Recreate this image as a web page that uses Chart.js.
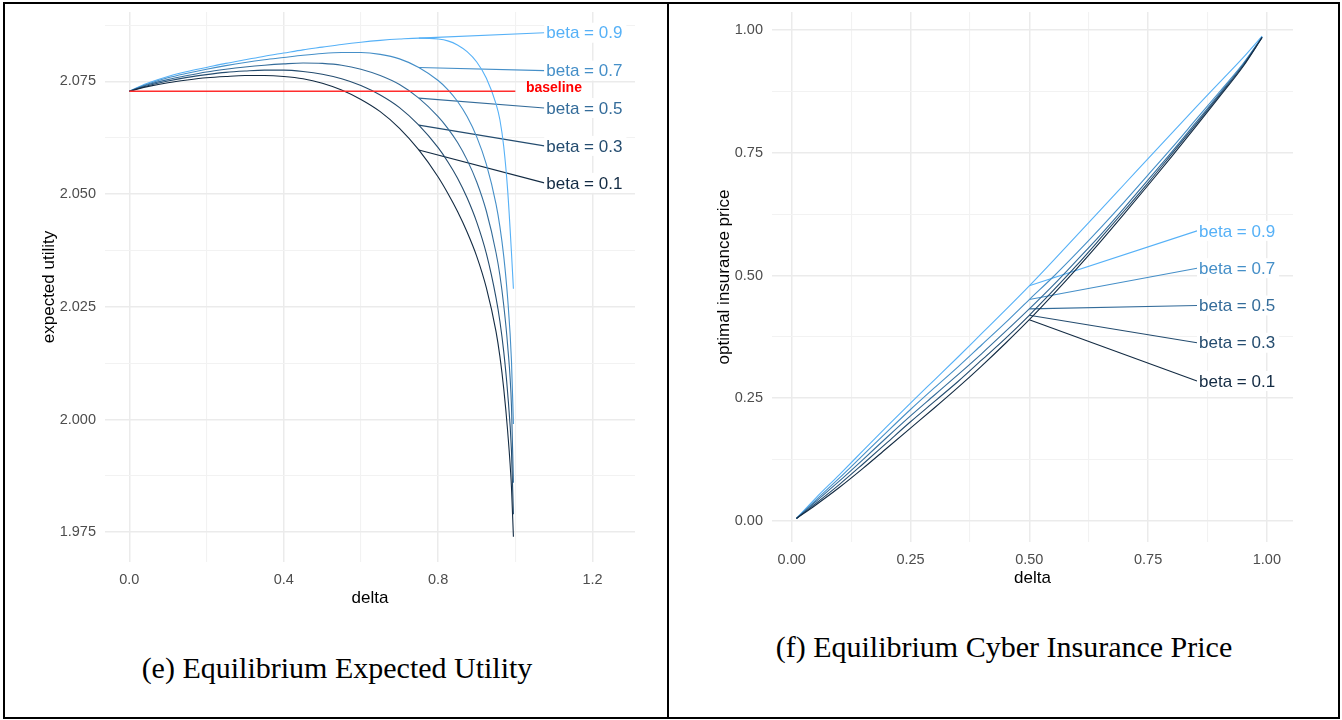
<!DOCTYPE html>
<html>
<head>
<meta charset="utf-8">
<script src="https://cdn.jsdelivr.net/npm/chart.js@4.4.1/dist/chart.umd.min.js"></script>
<style>
  body { margin: 0; background: #fff; }
  #page { position: relative; width: 1342px; height: 720px; overflow: hidden; background: #fff; }
  canvas { position: absolute; top: 0; }
  .frame { position: absolute; border: 2px solid #000; box-sizing: border-box; pointer-events: none; }
  .caption {
    position: absolute; white-space: nowrap; color: #000;
    font-family: 'Liberation Serif', 'Times New Roman', serif;
    font-size: 30px; line-height: 30px; transform: translateX(-50%);
  }
</style>
</head>
<body>
<div id="page">
  <canvas id="utilChart" width="668" height="625" style="left:0"></canvas>
  <canvas id="priceChart" width="668" height="600" style="left:670px"></canvas>
  <div class="caption" style="left:337px; top:653px">(e) Equilibrium Expected Utility</div>
  <div class="caption" style="left:1004px; top:632px">(f) Equilibrium Cyber Insurance Price</div>
  <div class="frame" style="left:3px; top:2px; width:1337px; height:717px"></div>
  <div class="frame" style="left:667px; top:2px; width:2px; height:717px; border-width:0 0 0 2px"></div>
</div>
<script>
const betaLevels = ['0.1', '0.3', '0.5', '0.7', '0.9'];
const betaColors = ['#132B43', '#244C6F', '#346C9A', '#458FC8', '#56B1F7'];

// (e) expected utility against delta
const deltaUtil = [0, 0.025, 0.05, 0.1, 0.15, 0.2, 0.25, 0.3, 0.35, 0.4, 0.45, 0.5, 0.55, 0.6, 0.65, 0.7, 0.75,
  0.8, 0.825, 0.85, 0.875, 0.9, 0.925, 0.95, 0.96, 0.97, 0.98, 0.99, 0.995];
const utilBeta01 = [2.0728, 2.0734, 2.0739, 2.0747, 2.0753, 2.0758, 2.0761, 2.0763, 2.0763, 2.0761, 2.0756, 2.0746, 2.0731, 2.0710, 2.0683, 2.0646, 2.0598,
  2.0538, 2.0502, 2.0462, 2.0416, 2.0362, 2.0292, 2.0195, 2.0140, 2.0068, 1.9975, 1.9850, 1.9740];
const utilBeta03 = [2.0728, 2.0735, 2.0741, 2.0751, 2.0759, 2.0765, 2.0770, 2.0773, 2.0775, 2.0775, 2.0772, 2.0766, 2.0756, 2.0741, 2.0720, 2.0692, 2.0653,
  2.0603, 2.0572, 2.0536, 2.0492, 2.0438, 2.0368, 2.0270, 2.0218, 2.0150, 2.0060, 1.9930, 1.9790];
const utilBeta05 = [2.0728, 2.0736, 2.0743, 2.0754, 2.0763, 2.0771, 2.0777, 2.0782, 2.0786, 2.0789, 2.0791, 2.0790, 2.0786, 2.0777, 2.0763, 2.0743, 2.0713,
  2.0672, 2.0646, 2.0615, 2.0576, 2.0527, 2.0462, 2.0370, 2.0320, 2.0253, 2.0165, 2.0030, 1.9860];
const utilBeta07 = [2.0728, 2.0737, 2.0745, 2.0758, 2.0768, 2.0777, 2.0785, 2.0792, 2.0798, 2.0803, 2.0808, 2.0812, 2.0814, 2.0814, 2.0810, 2.0800, 2.0781,
  2.0752, 2.0732, 2.0706, 2.0672, 2.0627, 2.0566, 2.0478, 2.0428, 2.0362, 2.0270, 2.0130, 1.9990];
const utilBeta09 = [2.0728, 2.0738, 2.0747, 2.0761, 2.0772, 2.0781, 2.0790, 2.0798, 2.0806, 2.0813, 2.0820, 2.0826, 2.0832, 2.0837, 2.0841, 2.0844, 2.0846,
  2.0844, 2.0840, 2.0831, 2.0816, 2.0793, 2.0757, 2.0700, 2.0665, 2.0605, 2.0510, 2.0370, 2.0290];
const utilBaseline = 2.0728;
const utilBaselineEnd = 1.0;
const utilTagFrom = 0.75;
const utilTagX = 1.075;
const utilTagY = [2.0525, 2.0607, 2.0691, 2.0774, 2.0858];
const utilXMajor = [0, 0.4, 0.8, 1.2];
const utilXMinor = [0.2, 0.6, 1.0];
const utilYMajor = [1.975, 2.0, 2.025, 2.05, 2.075];
const utilYMinor = [1.9875, 2.0125, 2.0375, 2.0625, 2.0875];

// (f) optimal insurance price against delta
const deltaPrice = [0.01, 0.05, 0.1, 0.15, 0.2, 0.25, 0.3, 0.35, 0.4, 0.45, 0.5, 0.55, 0.6, 0.65, 0.7, 0.75, 0.8, 0.85, 0.9, 0.95, 0.99];
const priceBeta01 = [0.005, 0.032, 0.068, 0.107, 0.148, 0.189, 0.230, 0.272, 0.316, 0.362, 0.410, 0.461, 0.514, 0.569, 0.626, 0.684, 0.743, 0.803, 0.864, 0.926, 0.985];
const priceBeta03 = [0.005, 0.035, 0.074, 0.116, 0.159, 0.202, 0.243, 0.284, 0.328, 0.372, 0.419, 0.469, 0.521, 0.576, 0.632, 0.689, 0.748, 0.807, 0.867, 0.928, 0.985];
const priceBeta05 = [0.005, 0.039, 0.081, 0.125, 0.170, 0.214, 0.256, 0.298, 0.341, 0.386, 0.432, 0.480, 0.531, 0.583, 0.638, 0.695, 0.752, 0.811, 0.870, 0.930, 0.986];
const priceBeta07 = [0.005, 0.042, 0.087, 0.134, 0.181, 0.227, 0.271, 0.314, 0.359, 0.404, 0.451, 0.497, 0.546, 0.597, 0.650, 0.705, 0.760, 0.817, 0.874, 0.932, 0.986];
const priceBeta09 = [0.005, 0.046, 0.094, 0.143, 0.192, 0.240, 0.287, 0.334, 0.382, 0.430, 0.479, 0.530, 0.582, 0.634, 0.686, 0.738, 0.790, 0.842, 0.893, 0.944, 0.988];
const priceTagFrom = 0.5;
const priceTagX = 0.853;
const priceTagY = [0.285, 0.363, 0.439, 0.515, 0.591];
const priceXMajor = [0, 0.25, 0.5, 0.75, 1.0];
const priceXMinor = [0.125, 0.375, 0.625, 0.875];
const priceYMajor = [0, 0.25, 0.5, 0.75, 1.0];
const priceYMinor = [0.125, 0.375, 0.625, 0.875];

Chart.defaults.font.family = '"Liberation Sans", Arial, sans-serif';
Chart.defaults.animation = false;

const toPoints = (xs, ys) => xs.map((x, i) => ({ x, y: ys[i] }));

function curveSets(xs, series) {
  return series.map((ys, i) => ({
    data: toPoints(xs, ys),
    borderColor: betaColors[i],
    borderWidth: 1.1,
    pointRadius: 0,
    cubicInterpolationMode: 'monotone',
  }));
}

// leader lines from each curve to its beta tag
function leaderSets(xs, series, fromX, tagX, tagY) {
  const k = xs.indexOf(fromX);
  return series.map((ys, i) => ({
    data: [{ x: fromX, y: ys[k] }, { x: tagX, y: tagY[i] }],
    borderColor: betaColors[i],
    borderWidth: 1.1,
    pointRadius: 0,
  }));
}

function axis(opts) {
  const { min, max, major, minor, digits, title, titlePad, size, horizontal } = opts;
  const all = major.concat(minor).sort((a, b) => a - b);
  const isMajor = (v) => major.some((m) => Math.abs(m - v) < 1e-9);
  return {
    type: 'linear',
    min,
    max,
    afterBuildTicks: (s) => { s.ticks = all.map((value) => ({ value })); },
    afterFit: (s) => {
      // fixed axis band, no extra room for the end labels
      if (horizontal) { s.height = size; s.paddingLeft = 0; s.paddingRight = 0; }
      else { s.width = size; s.paddingTop = 0; s.paddingBottom = 0; }
    },
    border: { display: false },
    grid: {
      drawTicks: false,
      color: (c) => (c.tick && isMajor(c.tick.value) ? '#EBEBEB' : '#F2F2F2'),
      lineWidth: (c) => (c.tick && isMajor(c.tick.value) ? 1.5 : 1.1),
    },
    ticks: {
      autoSkip: false,
      maxRotation: 0,
      padding: 9,
      color: '#4D4D4D',
      font: { size: 14.5 },
      callback: (v) => (isMajor(v) ? v.toFixed(digits) : ''),
    },
    title: {
      display: true,
      text: title,
      color: '#000',
      font: { size: 17 },
      padding: titlePad,
    },
  };
}

function tagPlugin(tagX, tagY, extra) {
  return {
    id: 'betaTags',
    afterDatasetsDraw(chart) {
      const { ctx, scales: { x, y } } = chart;
      ctx.save();
      ctx.textBaseline = 'middle';
      ctx.font = '17px "Liberation Sans", Arial, sans-serif';
      betaLevels.forEach((b, i) => {
        const text = 'beta = ' + b;
        const px = x.getPixelForValue(tagX);
        const py = y.getPixelForValue(tagY[i]);
        const w = ctx.measureText(text).width;
        ctx.fillStyle = '#fff';
        ctx.fillRect(px, py - 10, w + 6, 20);
        ctx.fillStyle = betaColors[i];
        ctx.fillText(text, px + 2, py + 1);
      });
      if (extra) {
        ctx.font = 'bold 14px "Liberation Sans", Arial, sans-serif';
        ctx.textAlign = 'center';
        ctx.fillStyle = extra.color;
        ctx.fillText(extra.text, x.getPixelForValue(extra.x), y.getPixelForValue(extra.y));
      }
      ctx.restore();
    },
  };
}

const utilSeries = [utilBeta01, utilBeta03, utilBeta05, utilBeta07, utilBeta09];
new Chart(document.getElementById('utilChart'), {
  type: 'line',
  data: {
    datasets: [
      {
        data: [{ x: 0, y: utilBaseline }, { x: utilBaselineEnd, y: utilBaseline }],
        borderColor: 'rgb(255, 45, 45)',
        borderWidth: 1.5,
        pointRadius: 0,
      },
      ...curveSets(deltaUtil, utilSeries),
      ...leaderSets(deltaUtil, utilSeries, utilTagFrom, utilTagX, utilTagY),
    ],
  },
  options: {
    responsive: false,
    parsing: false,
    layout: { padding: { left: 0, right: 33, top: 12, bottom: 13 } },
    plugins: { legend: { display: false }, tooltip: { enabled: false } },
    scales: {
      x: axis({ min: -0.063, max: 1.31, major: utilXMajor, minor: utilXMinor, digits: 1,
        title: 'delta', titlePad: { top: 0, bottom: 3 }, size: 50, horizontal: true }),
      y: axis({ min: 1.9684, max: 2.0904, major: utilYMajor, minor: utilYMinor, digits: 3,
        title: 'expected utility', titlePad: { top: 39, bottom: 0 }, size: 105, horizontal: false }),
    },
  },
  plugins: [tagPlugin(utilTagX, utilTagY, { text: 'baseline', x: 1.1, y: 2.0735, color: '#FF0000' })],
});

const priceSeries = [priceBeta01, priceBeta03, priceBeta05, priceBeta07, priceBeta09];
new Chart(document.getElementById('priceChart'), {
  type: 'line',
  data: {
    datasets: [
      ...curveSets(deltaPrice, priceSeries),
      ...leaderSets(deltaPrice, priceSeries, priceTagFrom, priceTagX, priceTagY),
    ],
  },
  options: {
    responsive: false,
    parsing: false,
    layout: { padding: { left: 0, right: 45, top: 12, bottom: 8 } },
    plugins: { legend: { display: false }, tooltip: { enabled: false } },
    scales: {
      x: axis({ min: -0.0415, max: 1.055, major: priceXMajor, minor: priceXMinor, digits: 2,
        title: 'delta', titlePad: { top: 0, bottom: 3 }, size: 50, horizontal: true }),
      y: axis({ min: -0.043, max: 1.037, major: priceYMajor, minor: priceYMinor, digits: 2,
        title: 'optimal insurance price', titlePad: { top: 44, bottom: 0 }, size: 102, horizontal: false }),
    },
  },
  plugins: [tagPlugin(priceTagX, priceTagY)],
});
</script>
</body>
</html>
